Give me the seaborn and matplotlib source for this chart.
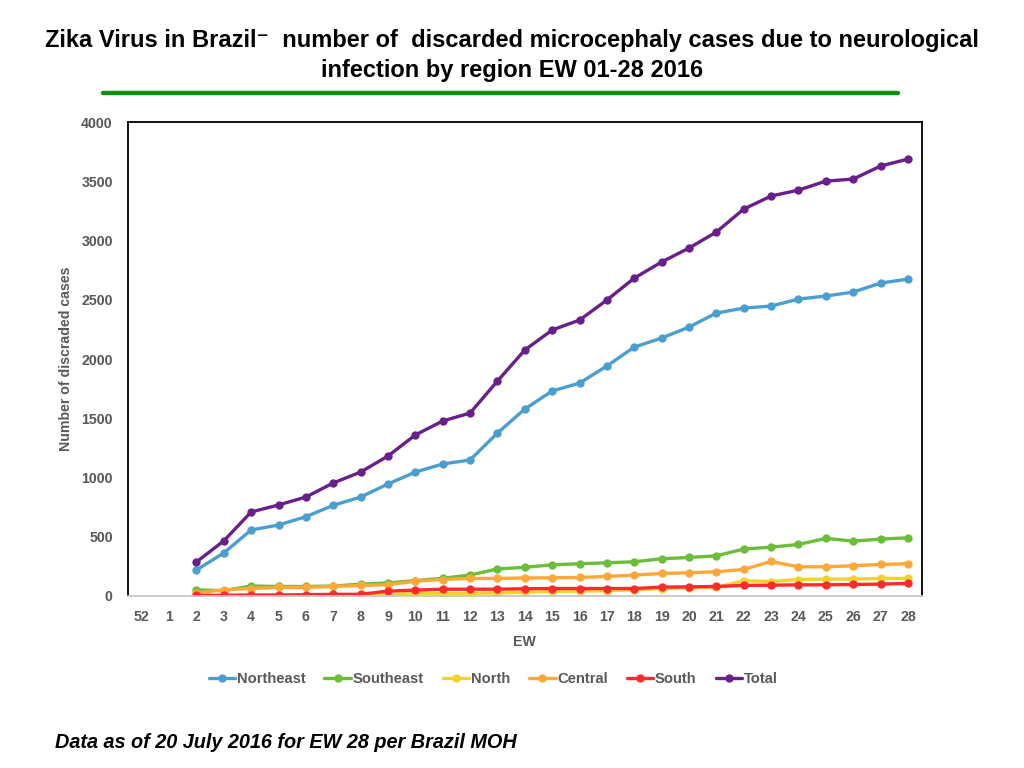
#!/usr/bin/env python3

import pandas as pd
import matplotlib
matplotlib.use('Agg')
import matplotlib.pyplot as plt
import seaborn as sns

#------------------------------------------------------------------------------------
# Data: discarded microcephaly cases by region, EW 02-28 2016
#------------------------------------------------------------------------------------
ew_labels = ['52', '1'] + [str(i) for i in range(2, 29)]
ew_data = [str(i) for i in range(2, 29)]

northeast = [219, 363, 557, 599, 669, 765, 835, 945, 1046, 1114, 1148, 1375, 1578, 1730,
             1797, 1941, 2101, 2177, 2270, 2388, 2430, 2447, 2506, 2532, 2565, 2641, 2675]
southeast = [51, 45, 84, 80, 80, 84, 100, 110, 130, 149, 177, 228, 242, 263,
             272, 280, 289, 314, 325, 339, 396, 412, 435, 486, 463, 480, 491]
north = [2, 3, 4, 4, 5, 6, 8, 12, 20, 20, 22, 24, 32, 38,
         41, 44, 52, 63, 69, 72, 128, 122, 139, 142, 142, 148, 148]
central = [25, 52, 63, 72, 72, 80, 89, 95, 125, 139, 148, 148, 152, 153,
           156, 165, 176, 190, 196, 204, 224, 291, 246, 246, 255, 266, 272]
south = [5, 6, 8, 8, 11, 14, 14, 41, 49, 57, 57, 57, 61, 63,
         63, 63, 63, 75, 77, 80, 89, 91, 94, 94, 97, 100, 106]
total = [287, 465, 709, 768, 835, 954, 1046, 1181, 1359, 1477, 1544, 1814, 2076, 2245,
         2329, 2498, 2683, 2819, 2937, 3072, 3266, 3376, 3426, 3502, 3519, 3629, 3688]

regions = ['Northeast', 'Southeast', 'North', 'Central', 'South', 'Total']
series = [northeast, southeast, north, central, south, total]
colors = ['#4a9fd0', '#6cbd3a', '#f5d130', '#ffa83a', '#ff2a2a', '#6a1f8a']

frames = []
for name, vals in zip(regions, series):
    frames.append(pd.DataFrame({'EW': ew_data, 'cases': vals, 'region': name}))
df = pd.concat(frames, ignore_index=True)
df['pos'] = df['EW'].map({lab: i for i, lab in enumerate(ew_labels)})

sns.set_style('white')
plt.rcParams['font.family'] = ['Liberation Sans', 'DejaVu Sans']
grey = '#595959'

fig = plt.figure(figsize=(10.24, 7.68), dpi=100)
ax = fig.add_axes([0.125, 0.224, 0.775, 0.617])

sns.lineplot(data=df, x='pos', y='cases', hue='region', hue_order=regions,
             palette=colors, marker='o', markersize=6, markeredgewidth=0,
             linewidth=2.4, ax=ax, legend=True)

ax.set_xlim(-0.5, len(ew_labels) - 0.5)
ax.set_ylim(0, 4000)
ax.set_yticks(range(0, 4001, 500))
ax.set_xticks(range(len(ew_labels)))
ax.set_xticklabels(ew_labels)
ax.tick_params(axis='both', length=0, labelsize=10.2, labelcolor=grey)
ax.tick_params(axis='y', pad=11)
ax.tick_params(axis='x', pad=10)
for lab in ax.get_xticklabels() + ax.get_yticklabels():
    lab.set_fontweight('bold')

ax.set_xlabel('EW', fontsize=10.2, fontweight='bold', color=grey, labelpad=8)
ax.set_ylabel('Number of discraded cases', fontsize=10.2, fontweight='bold',
              color=grey, labelpad=6)

for side in ['left', 'top', 'right']:
    ax.spines[side].set_color('black')
    ax.spines[side].set_linewidth(1.3)
ax.spines['bottom'].set_color('#c8c8c8')
ax.spines['bottom'].set_linewidth(1.3)

handles, labels = ax.get_legend_handles_labels()
ax.get_legend().remove()
leg = fig.legend(handles, labels, loc='center', ncol=6,
                 bbox_to_anchor=(493 / 1024, 1 - 679 / 768), frameon=False,
                 fontsize=10.6, handlelength=1.8, handletextpad=0.1,
                 columnspacing=1.3)
for t in leg.get_texts():
    t.set_color(grey)
    t.set_fontweight('bold')

fig.text(0.5, 1 - 41 / 768, 'Zika Virus in Brazil\u207b  number of  discarded microcephaly cases due to neurological',
         ha='center', va='center', fontsize=17, fontweight='bold', color='black')
fig.text(0.5, 1 - 71 / 768, 'infection by region EW 01-28 2016',
         ha='center', va='center', fontsize=17, fontweight='bold', color='black')
fig.add_artist(plt.Line2D([103 / 1024, 898 / 1024], [1 - 93 / 768, 1 - 93 / 768],
                          color='#119111', linewidth=3.2, transform=fig.transFigure))

fig.text(55 / 1024, 1 - 743 / 768, 'Data as of 20 July 2016 for EW 28 per Brazil MOH',
         ha='left', va='center', fontsize=14.3, fontweight='bold', style='italic',
         color='black')

plt.savefig('out.png', dpi=100)
